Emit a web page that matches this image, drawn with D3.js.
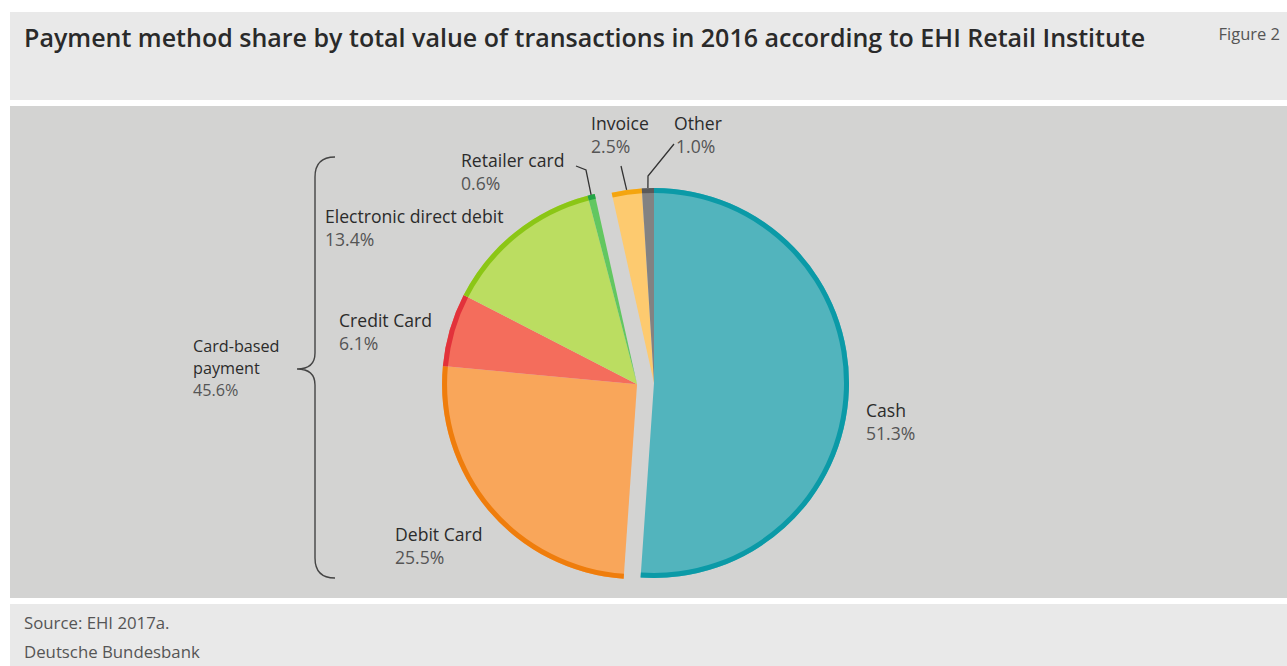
<!DOCTYPE html>
<html>
<head>
<meta charset="utf-8">
<script src="https://cdn.jsdelivr.net/npm/d3@7/dist/d3.min.js"></script>
<style>
  html, body { margin: 0; padding: 0; background: #fff; }
  svg { display: block; font-family: "Open Sans", "Noto Sans", sans-serif; }
</style>
</head>
<body>
<div id="chart"></div>
<script>
// ===== DATA =====
const categories = ["Cash", "Debit Card", "Credit Card", "Electronic direct debit", "Retailer card", "Invoice", "Other"];
const shares = [51.3, 25.5, 6.1, 13.4, 0.6, 2.5, 1.0];
const groups = ["cash", "card", "card", "card", "card", "rest", "rest"];
const groupLabel = ["Card-based", "payment"];
const groupShare = 45.6;

// fill + rim colours, same order as categories
const fills = ["#52b4bd", "#f9a65a", "#f46d5c", "#bbdd61", "#62c760", "#fdca6f", "#828282"];
const rims  = ["#0b9aa7", "#ef7d0c", "#e2323b", "#8bc616", "#23a446", "#f4a50f", "#5a5a5a"];

const W = 1287, H = 666;
const cx = 654, cy = 383, R = 195, rimW = 5;
const groupOffset = { cash: 0, card: 17, rest: 0 };

const svg = d3.select("#chart").append("svg")
  .attr("width", W).attr("height", H);

// panels
svg.append("rect").attr("x", 10).attr("y", 12).attr("width", W - 10).attr("height", 88).attr("fill", "#e9e9e9");
svg.append("rect").attr("x", 10).attr("y", 106).attr("width", W - 10).attr("height", 492).attr("fill", "#d3d3d2");
svg.append("rect").attr("x", 10).attr("y", 604).attr("width", W - 10).attr("height", 62).attr("fill", "#e9e9e9");

// title, sized so it spans the same width as the original
const title = svg.append("text").attr("x", 24).attr("y", 47)
  .attr("font-size", 24).attr("font-weight", 600).attr("fill", "#2a2a2a")
  .text("Payment method share by total value of transactions in 2016 according to EHI Retail Institute");
const tw = title.node().getComputedTextLength();
title.attr("font-size", 24 * 1122 / tw);

svg.append("text").attr("x", 1280).attr("y", 40).attr("text-anchor", "end")
  .attr("font-size", 16.5).attr("fill", "#555").text("Figure 2");

svg.append("text").attr("x", 24).attr("y", 629).attr("font-size", 16.8).attr("fill", "#555").text("Source: EHI 2017a.");
svg.append("text").attr("x", 24).attr("y", 658).attr("font-size", 16.8).attr("fill", "#555").text("Deutsche Bundesbank");

// ===== PIE =====
const pie = d3.pie().sort(null).value(d => d.v);
const arcs = pie(categories.map((c, i) => ({ c, v: shares[i], g: groups[i], i })));

// offset each group along its mid angle
const groupAngles = {};
arcs.forEach(a => {
  const g = a.data.g;
  if (!groupAngles[g]) groupAngles[g] = [a.startAngle, a.endAngle];
  groupAngles[g][1] = a.endAngle;
});
function shift(g) {
  const [s, e] = groupAngles[g];
  const m = (s + e) / 2, k = groupOffset[g];
  return [k * Math.sin(m), -k * Math.cos(m)];
}

const fillArc = d3.arc().innerRadius(0).outerRadius(R);
const rimArc = d3.arc().innerRadius(R - rimW).outerRadius(R);

const slices = svg.append("g").attr("transform", `translate(${cx},${cy})`)
  .selectAll("g").data(arcs).join("g")
  .attr("transform", d => `translate(${shift(d.data.g)})`);
slices.append("path").attr("d", fillArc).attr("fill", d => fills[d.data.i]);
slices.append("path").attr("d", rimArc).attr("fill", d => rims[d.data.i]);

// ===== LABELS =====
const labelPos = {
  "Cash": [866, 417],
  "Debit Card": [395, 541],
  "Credit Card": [339, 327],
  "Electronic direct debit": [325, 223],
  "Retailer card": [461, 167],
  "Invoice": [591, 130],
  "Other": [674, 130]
};
const fmt = d3.format(".1f");
const lab = svg.append("g").attr("font-size", 17.6);
arcs.forEach(a => {
  const [x, y] = labelPos[a.data.c];
  lab.append("text").attr("x", x).attr("y", y).attr("fill", "#2b2b2b").text(a.data.c);
  lab.append("text").attr("x", x + (a.data.c === "Other" ? 2 : 0)).attr("y", y + 23)
    .attr("fill", "#555").text(fmt(a.data.v) + "%");
});

// group label
const gl = svg.append("g").attr("font-size", 16.2);
gl.append("text").attr("x", 193).attr("y", 352).attr("fill", "#2b2b2b").text(groupLabel[0]);
gl.append("text").attr("x", 193).attr("y", 374).attr("fill", "#2b2b2b").text(groupLabel[1]);
gl.append("text").attr("x", 193).attr("y", 396).attr("fill", "#555").text(fmt(groupShare) + "%");

// leader lines, anchored to slice outer edge
function edgePoint(c) {
  const a = arcs[categories.indexOf(c)];
  const m = (a.startAngle + a.endAngle) / 2;
  const [dx, dy] = shift(a.data.g);
  return [cx + dx + R * Math.sin(m), cy + dy - R * Math.cos(m)];
}
const line = d3.line();
const leaders = [
  ["Retailer card", [[586, 170], [576, 166]]],
  ["Invoice", [[621, 166]]],
  ["Other", [[648, 176], [674, 144]]]
];
svg.append("g").selectAll("path").data(leaders).join("path")
  .attr("d", d => line([edgePoint(d[0])].concat(d[1])))
  .attr("fill", "none").attr("stroke", "#333").attr("stroke-width", 1.3);

// brace for card-based group
const bx = 315, bTop = 157, bBot = 578, bMid = 369, bTip = 297;
const brace = `M ${bx + 20} ${bTop} Q ${bx} ${bTop} ${bx} ${bTop + 20}
  L ${bx} ${bMid - 16} Q ${bx} ${bMid} ${bTip} ${bMid}
  Q ${bx} ${bMid} ${bx} ${bMid + 16}
  L ${bx} ${bBot - 20} Q ${bx} ${bBot} ${bx + 20} ${bBot}`;
svg.append("path").attr("d", brace).attr("fill", "none").attr("stroke", "#444").attr("stroke-width", 1.4);
</script>
</body>
</html>
